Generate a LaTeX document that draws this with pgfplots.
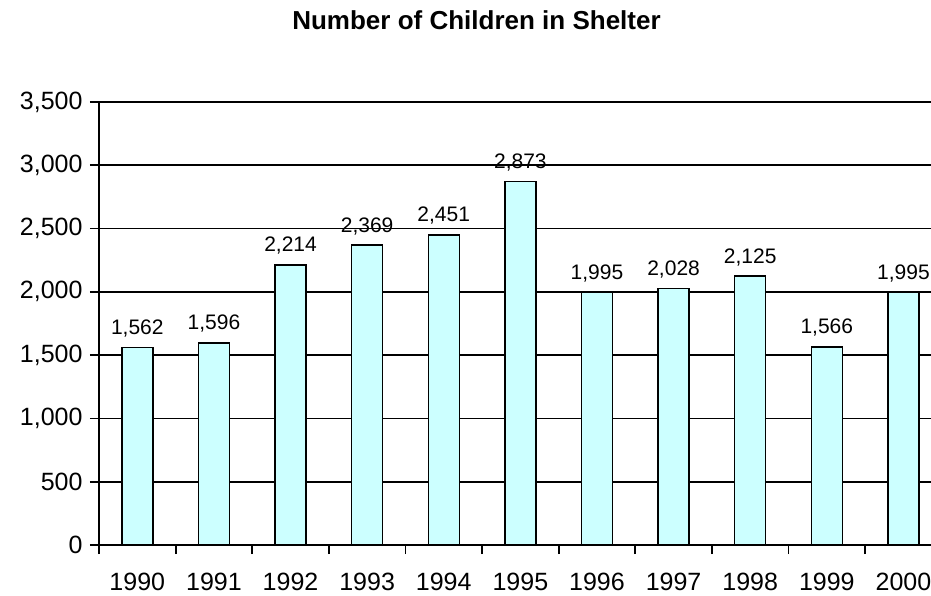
\documentclass[border=0pt]{standalone}
\usepackage{fontspec}
\setmainfont{Liberation Sans}
\usepackage{pgfplots}
\pgfplotsset{compat=1.18}
\definecolor{barfill}{RGB}{204,255,255}
\begin{document}
\begin{tikzpicture}
\begin{axis}[
  scale only axis,
  width=832pt, height=443pt,
  xmin=-0.5, xmax=10.36,
  ymin=0, ymax=3500,
  axis x line*=bottom,
  axis y line*=left,
  axis line style={line width=1.8pt, black},
  tick style={line width=1.8pt, black},
  tick align=outside,
  ytick={0,500,...,3500},
  major tick length=9pt,
  ymajorgrids,
  grid style={line width=1.8pt, black},
  xtick={-0.5,0.5,...,9.5},
  xticklabels={},
  extra x ticks={0,1,2,3,4,5,6,7,8,9,10},
  extra x tick labels={1990,1991,1992,1993,1994,1995,1996,1997,1998,1999,2000},
  extra x tick style={major tick length=0pt, grid=none},
  /pgf/number format/assume math mode=true,
  /pgf/number format/1000 sep={,},
  ticklabel style={font=\fontsize{25}{28}\selectfont},
  yticklabel style={xshift=-4pt},
  xticklabel style={yshift=-25pt},
  ybar,
  bar width=31pt,
  nodes near coords,
  every node near coord/.append style={font=\fontsize{21}{24}\selectfont, anchor=base, yshift=13pt},
  clip=false,
]
\addplot[fill=barfill, draw=black, line width=1.5pt] coordinates {
  (0,1562) (1,1596) (2,2214) (3,2369) (4,2451) (5,2873)
  (6,1995) (7,2028) (8,2125) (9,1566) (10,1995)
};
\coordinate (O) at (axis cs:-0.5,0);
\end{axis}
\node[anchor=base, font=\fontsize{26}{30}\selectfont\bfseries] at ([shift={(377.5pt,515pt)}]O) {Number of Children in Shelter};
\pgfresetboundingbox
\path[use as bounding box] ([shift={(-99pt,-51pt)}]O) rectangle ([shift={(832pt,545pt)}]O);
\end{tikzpicture}
\end{document}
